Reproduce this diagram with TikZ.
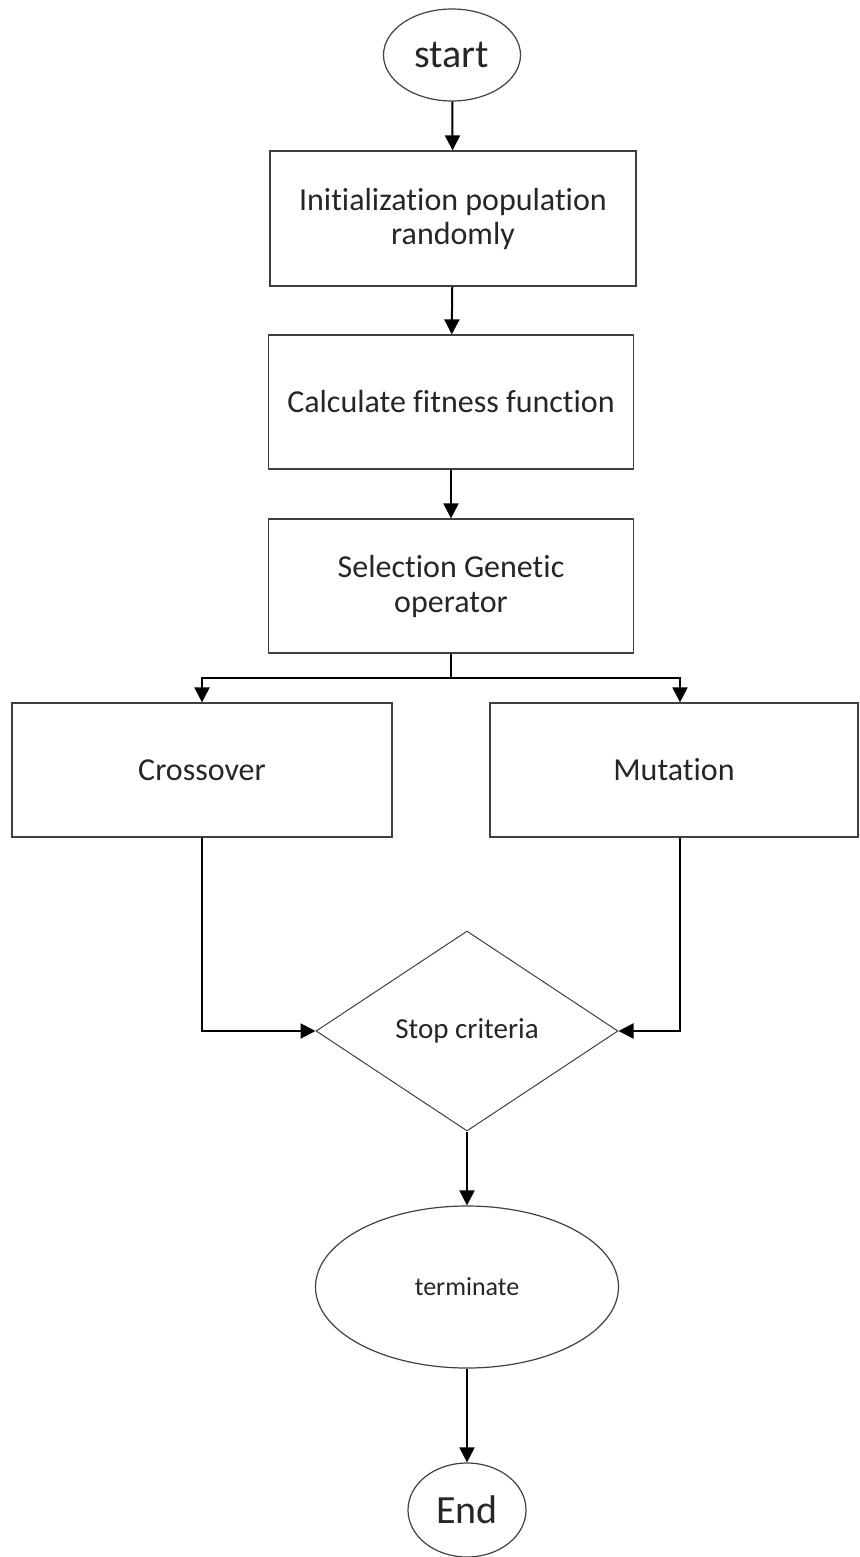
\documentclass[tikz,border=0pt]{standalone}
\usepackage{fontspec}
\setmainfont{Carlito}[Ligatures={NoCommon,NoContextual}]
\usetikzlibrary{shapes.geometric,arrows.meta}

\tikzset{
    block/.style={draw=black!75, line width=0.6pt, rectangle, align=center, inner sep=0pt,
        text=black!85, font=\fontsize{16}{17}\selectfont},
    terminal/.style={draw=black!75, line width=0.6pt, ellipse, inner sep=0pt, text=black!85},
    decision/.style={draw=black!75, line width=0.5pt, diamond, inner sep=0pt, text=black!85,
        font=\fontsize{14.5}{17}\selectfont},
    arrow/.style={line width=1pt, -{Triangle[length=7.5pt,width=7.5pt]}},
    link/.style={line width=1pt},
}

\begin{document}
\begin{tikzpicture}[x=0.5pt, y=-0.5pt]
        \useasboundingbox (0, 0) rectangle (859, 1557);

        \node[terminal, minimum width=68.5pt, minimum height=46pt, font=\fontsize{20}{24}\selectfont] (start) at (452, 55) {start};

        \node[block, minimum width=183pt, minimum height=67.5pt] (init) at (453, 218.5) {Initialization population\\randomly};
        \node[block, minimum width=182.5pt, minimum height=67pt] (fit) at (451, 402) {Calculate fitness function};
        \node[block, minimum width=182.5pt, minimum height=67pt, font=\fontsize{16}{17.5}\selectfont] (sel) at (451, 586) {Selection Genetic\\operator};

        \coordinate (split) at (451, 678);

        \node[block, minimum width=190pt, minimum height=67pt] (cross) at (202, 770) {Crossover};
        \node[block, minimum width=184pt, minimum height=67pt] (mut) at (674, 770) {Mutation};

        \node[decision, minimum width=151pt, minimum height=100pt] (crit) at (467, 1031) {Stop criteria};

        \node[terminal, minimum width=151.5pt, minimum height=81pt, font=\fontsize{13}{15}\selectfont] (term) at (467, 1287) {terminate};
        \node[terminal, minimum width=59pt, minimum height=47pt, font=\fontsize{20}{24}\selectfont] (end) at (467, 1510) {End};

        \draw[arrow] (start) -- (init);
        \draw[arrow] (init) -- (fit);
        \draw[arrow] (fit) -- (sel);
        \draw[link] (sel.south) -- (split);
        \draw[arrow] (split) -| (cross.north);
        \draw[arrow] (split) -| ([xshift=3pt]mut.north);
        \draw[arrow] (cross.south) |- (crit.west);
        \draw[arrow] ([xshift=3pt]mut.south) |- (crit.east);
        \draw[arrow] (crit.south) -- (term.north);
        \draw[arrow] (term.south) -- (end.north);
    \end{tikzpicture}
\end{document}
